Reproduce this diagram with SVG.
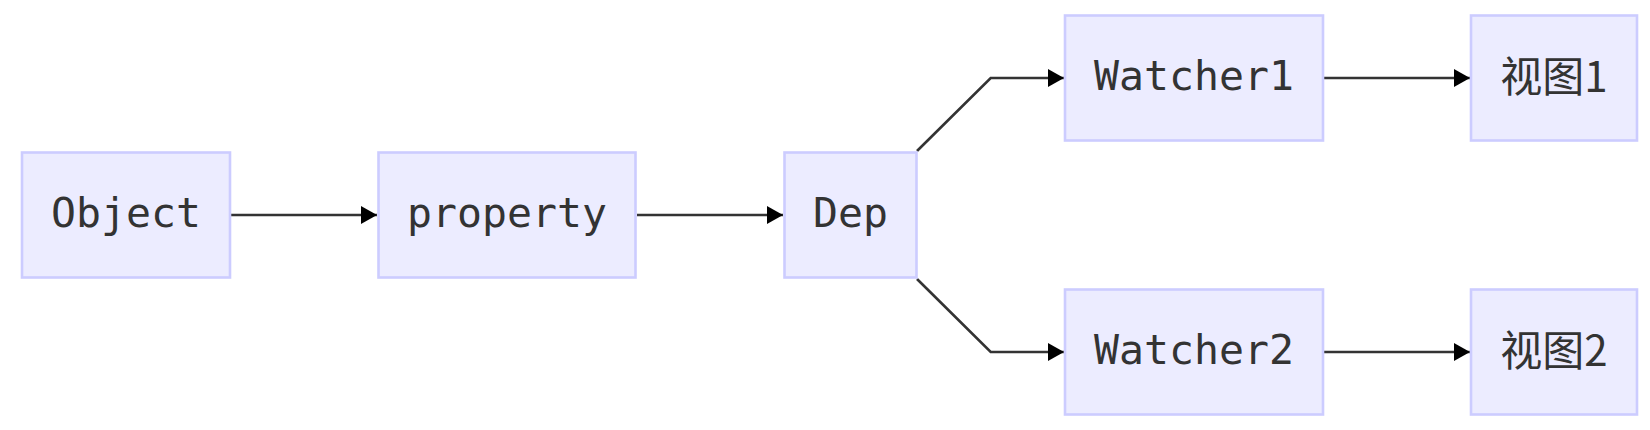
<svg xmlns="http://www.w3.org/2000/svg" width="1650" height="430" viewBox="0 0 1650 430">
<style>
.node rect{fill:#ECECFF;stroke:#CCCCFF;stroke-width:2.6}
.node text{fill:#333;font-family:"DejaVu Sans Mono",monospace;font-size:41.5px;text-anchor:middle}
.node text.cjk{font-family:"Noto Sans CJK SC","Noto Sans",sans-serif;font-size:42px}
.edge{fill:none;stroke:#333;stroke-width:2.6}
</style>
<defs>
<marker id="arrow" markerUnits="userSpaceOnUse" viewBox="0 0 16 18" refX="16" refY="9" markerWidth="16" markerHeight="18" orient="auto">
<path d="M0,0 L16,9 L0,18 Z" fill="#000"/>
</marker>
</defs>
<rect width="1650" height="430" fill="#fff"/>
<g id="connectors">
<path class="edge" d="M231,215 L377,215" marker-end="url(#arrow)"/>
<path class="edge" d="M637,215 L783,215" marker-end="url(#arrow)"/>
<path class="edge" d="M917,151 L990.7,78 L1064,78" marker-end="url(#arrow)"/>
<path class="edge" d="M917,279 L990.7,352 L1064,352" marker-end="url(#arrow)"/>
<path class="edge" d="M1324,78 L1470,78" marker-end="url(#arrow)"/>
<path class="edge" d="M1324,352 L1470,352" marker-end="url(#arrow)"/>
</g>
<g id="node-object" class="node">
<rect x="22" y="152.5" width="208" height="125"/>
<text x="126" y="227">Object</text>
</g>
<g id="node-property" class="node">
<rect x="378.5" y="152.5" width="257" height="125"/>
<text x="507" y="227">property</text>
</g>
<g id="node-dep" class="node">
<rect x="784.5" y="152.5" width="132" height="125"/>
<text x="850.5" y="227">Dep</text>
</g>
<g id="node-watcher1" class="node">
<rect x="1065" y="15.5" width="258" height="125"/>
<text x="1194" y="90">Watcher1</text>
</g>
<g id="node-watcher2" class="node">
<rect x="1065" y="289.5" width="258" height="125"/>
<text x="1194" y="364">Watcher2</text>
</g>
<g id="node-view1" class="node">
<rect x="1471" y="15.5" width="166" height="125"/>
<text class="cjk" x="1554" y="91.5">视图1</text>
</g>
<g id="node-view2" class="node">
<rect x="1471" y="289.5" width="166" height="125"/>
<text class="cjk" x="1554" y="365.5">视图2</text>
</g>
</svg>
